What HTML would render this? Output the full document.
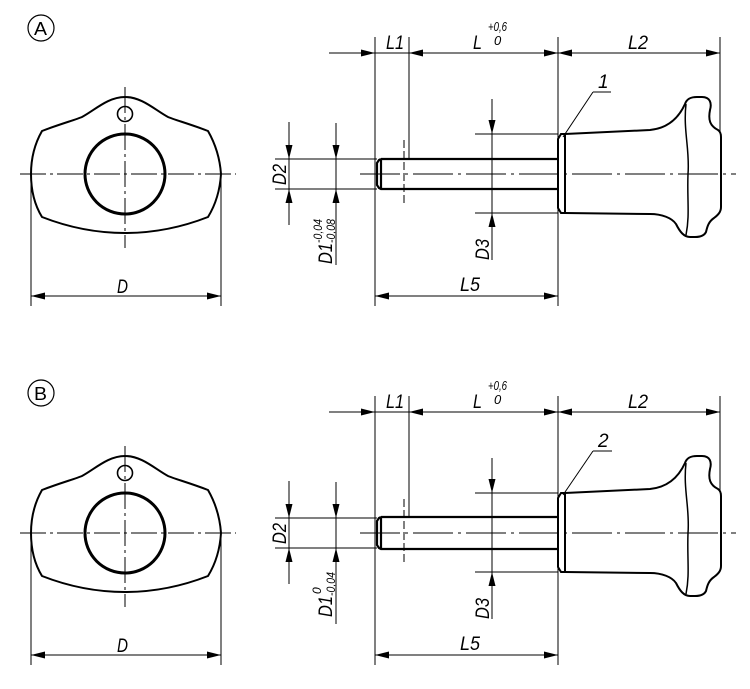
<!DOCTYPE html>
<html><head><meta charset="utf-8"><style>
html,body{margin:0;padding:0;background:#fff}
svg{display:block}
text{font-family:"Liberation Sans",sans-serif;font-style:italic;fill:#000}
</style></head><body>
<svg width="750" height="689" viewBox="0 0 750 689" xmlns="http://www.w3.org/2000/svg">
<defs>
<g id="view">
  <path d="M42,131 C60,124 75,120 82,117 C95,110 108,97 125,97 C142,97 155,110 168,117 C175,120 190,124 208,131 C216,145 220,160 221,174 C220,190 216,204 208,217 C185,226 158,233 125,233 C92,233 65,226 42,217 C34,204 31,190 31,174 C31,160 34,145 42,131 Z" fill="none" stroke="#000" stroke-width="2"/>
  <circle cx="125" cy="174" r="40" fill="none" stroke="#000" stroke-width="3"/>
  <circle cx="125" cy="114" r="7.5" fill="none" stroke="#000" stroke-width="1.6"/>
  <line x1="125" y1="87" x2="125" y2="248" stroke="#000" stroke-width="1" stroke-dasharray="26,4,3,4"/>
  <line x1="20" y1="174" x2="236" y2="174" stroke="#000" stroke-width="1" stroke-dasharray="26,4,3,4"/>
  <line x1="31" y1="176" x2="31" y2="306" stroke="#000"/>
  <line x1="221" y1="176" x2="221" y2="306" stroke="#000"/>
  <line x1="31" y1="296" x2="221" y2="296" stroke="#000"/>
  <polygon points="31,296 45,292.5 45,299.5"/>
  <polygon points="221,296 207,292.5 207,299.5"/>
  <text x="117" y="293" font-size="19" textLength="11" lengthAdjust="spacingAndGlyphs">D</text>

  <line x1="375" y1="37" x2="375" y2="306" stroke="#000"/>
  <line x1="409" y1="37" x2="409" y2="158" stroke="#000"/>
  <line x1="558" y1="37" x2="558" y2="306" stroke="#000"/>
  <line x1="720" y1="37" x2="720" y2="132" stroke="#000"/>
  <line x1="329" y1="53" x2="720" y2="53" stroke="#000"/>
  <polygon points="375,53 361,49.5 361,56.5"/>
  <polygon points="409,53 423,49.5 423,56.5"/>
  <polygon points="558,53 544,49.5 544,56.5"/>
  <polygon points="558,53 572,49.5 572,56.5"/>
  <polygon points="720,53 706,49.5 706,56.5"/>
  <text x="386" y="49" font-size="19" textLength="18" lengthAdjust="spacingAndGlyphs">L1</text>
  <text x="473" y="49" font-size="19" textLength="9" lengthAdjust="spacingAndGlyphs">L</text>
  <text x="488" y="31" font-size="13" textLength="19" lengthAdjust="spacingAndGlyphs">+0,6</text>
  <text x="494" y="45" font-size="13">0</text>
  <text x="628" y="49" font-size="19" textLength="20" lengthAdjust="spacingAndGlyphs">L2</text>
  <line x1="375" y1="296" x2="558" y2="296" stroke="#000"/>
  <polygon points="375,296 389,292.5 389,299.5"/>
  <polygon points="558,296 544,292.5 544,299.5"/>
  <text x="460" y="291" font-size="19" textLength="20" lengthAdjust="spacingAndGlyphs">L5</text>

  <line x1="275" y1="159" x2="377" y2="159" stroke="#000"/>
  <line x1="275" y1="189" x2="377" y2="189" stroke="#000"/>
  <line x1="289" y1="122" x2="289" y2="225" stroke="#000"/>
  <polygon points="289,159 285.5,145 292.5,145"/>
  <polygon points="289,189 285.5,203 292.5,203"/>
  <line x1="336" y1="123" x2="336" y2="265" stroke="#000"/>
  <polygon points="336,159 332.5,145 339.5,145"/>
  <polygon points="336,189 332.5,203 339.5,203"/>
  <text transform="translate(286,185) rotate(-90)" font-size="19" textLength="21" lengthAdjust="spacingAndGlyphs">D2</text>

  <line x1="475" y1="134" x2="558" y2="134" stroke="#000"/>
  <line x1="475" y1="213" x2="558" y2="213" stroke="#000"/>
  <line x1="492" y1="99" x2="492" y2="260" stroke="#000"/>
  <polygon points="492,134 488.5,120 495.5,120"/>
  <polygon points="492,213 488.5,227 495.5,227"/>
  <text transform="translate(489,260) rotate(-90)" font-size="19" textLength="21" lengthAdjust="spacingAndGlyphs">D3</text>

  <line x1="360" y1="174" x2="736" y2="174" stroke="#000" stroke-width="1" stroke-dasharray="40,5,3,5"/>
  <line x1="404" y1="140" x2="404" y2="206" stroke="#000" stroke-dasharray="8,3"/>
  <path d="M565,134 L650,130 C670,128 680,115 685,104 C687,98 692,97 697,97 L702,97 C710,97 712,103 710,110 C708,120 710,126 718,130 C721,132 721,135 721,137 L721,207 C721,212 718,215 714,218 C708,222 707,228 706,232 C704,236 700,237 695,237 L690,237 C684,237 680,232 676,224 C672,218 662,214 650,214 L565,213" fill="none" stroke="#000" stroke-width="2"/>
  <path d="M686,104 C683,130 690,150 688,174 C687,200 690,215 686,235" fill="none" stroke="#000" stroke-width="1.5"/>
  <path d="M565,134 L561,134 L558,139 L558,208 L561,213 L565,213 Z" fill="none" stroke="#000" stroke-width="2"/>
</g>
</defs>

<use href="#view"/>
<use href="#view" transform="translate(0,359)"/>

<circle cx="41" cy="28" r="13" fill="none" stroke="#000" stroke-width="1.2"/>
<text x="34" y="35" font-size="18" style="font-style:normal" textLength="13" lengthAdjust="spacingAndGlyphs">A</text>
<path d="M381,159 L379,160 L377,163 L377,185 L379,188 L381,189 L558,189 M381,159 L558,159 M381,159 L381,189" fill="none" stroke="#000" stroke-width="2.2"/>
<line x1="563" y1="137" x2="593" y2="92" stroke="#000"/>
<line x1="593" y1="92" x2="611" y2="92" stroke="#000"/>
<text x="598" y="88" font-size="19">1</text>
<g transform="translate(332,264) rotate(-90)">
  <text x="0" y="0" font-size="19" textLength="21" lengthAdjust="spacingAndGlyphs">D1</text>
  <text x="21" y="-10" font-size="12" textLength="24" lengthAdjust="spacingAndGlyphs">-0,04</text>
  <text x="21" y="3" font-size="12" textLength="24" lengthAdjust="spacingAndGlyphs">-0,08</text>
</g>

<circle cx="41" cy="393" r="13" fill="none" stroke="#000" stroke-width="1.2"/>
<text x="34" y="400" font-size="18" style="font-style:normal" textLength="13" lengthAdjust="spacingAndGlyphs">B</text>
<path d="M381,517 L379,518 L377,521 L377,545 L379,548 L381,549 L558,549 M381,517 L558,517 M381,517 L381,549" fill="none" stroke="#000" stroke-width="2.2"/>
<line x1="563" y1="495" x2="593" y2="451" stroke="#000"/>
<line x1="593" y1="451" x2="612" y2="451" stroke="#000"/>
<text x="598" y="447" font-size="19">2</text>
<g transform="translate(332,617) rotate(-90)">
  <text x="0" y="0" font-size="19" textLength="21" lengthAdjust="spacingAndGlyphs">D1</text>
  <text x="23" y="-11" font-size="12">0</text>
  <text x="21" y="3" font-size="12" textLength="24" lengthAdjust="spacingAndGlyphs">-0,04</text>
</g>
</svg>
</body></html>
